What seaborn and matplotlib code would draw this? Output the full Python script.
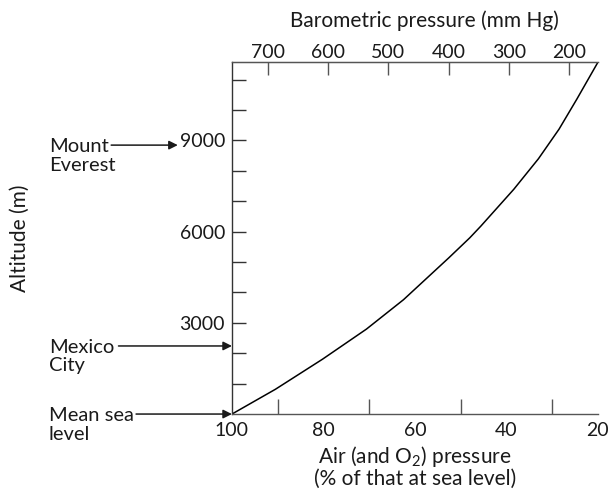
import matplotlib
matplotlib.use("Agg")
import matplotlib.pyplot as plt
import seaborn as sns
import pandas as pd

# values
pressure_pct = [100, 90.5, 80.2, 70.6, 62.5, 52.6, 48.0, 45.6, 38.4, 33.0, 28.5, 24.6, 20.0]
altitude_m = [0, 815, 1805, 2795, 3762, 5139, 5800, 6182, 7393, 8400, 9373, 10363, 11575]
pct_ticks = [100, 80, 60, 40, 20]
mmhg_ticks = [700, 600, 500, 400, 300, 200]
alt_ticks = [3000, 6000, 9000]
places = ["Mount\nEverest", "Mexico\nCity", "Mean sea\nlevel"]
place_alt = [8848, 2240, 0]

df = pd.DataFrame({"pct": pressure_pct, "alt": altitude_m})

sns.set_style("white")
plt.rcParams["font.family"] = ["Lato", "DejaVu Sans"]
plt.rcParams["mathtext.fontset"] = "custom"
plt.rcParams["mathtext.rm"] = "Lato"

fig = plt.figure(figsize=(6.12, 4.90), dpi=100)
ax = fig.add_axes([0.379, 0.155, 0.598, 0.718])

sns.lineplot(data=df, x="pct", y="alt", color="black", linewidth=1.1, ax=ax)

ax.set_xlim(100, 20)
ax.set_ylim(0, 11575)

spine_col = "#555555"
txt_col = "#1a1a1a"
for s in ["left", "bottom", "top"]:
    ax.spines[s].set_color(spine_col)
    ax.spines[s].set_linewidth(1.0)
ax.spines["left"].set_color("#333333")
ax.spines["right"].set_visible(False)

tick_fs = 14
lab_fs = 15
ann_fs = 14.5
ax.set_xticks(pct_ticks)
ax.set_xticks(range(90, 19, -10), minor=True)
ax.set_yticks(alt_ticks)
ax.set_yticks([y for y in range(1000, 11001, 1000) if y % 3000 != 0], minor=True)
ax.tick_params(axis="both", which="both", direction="in", width=1.0,
               color=spine_col, labelsize=tick_fs, labelcolor=txt_col,
               left=True, bottom=True)
ax.tick_params(axis="y", which="both", length=10, pad=5, color="#333333")
ax.tick_params(axis="x", which="major", length=0, pad=6)
ax.tick_params(axis="x", which="minor", length=11)

ax.set_xlabel("Air (and O$_2$) pressure\n(% of that at sea level)", fontsize=lab_fs,
              color=txt_col, labelpad=3, linespacing=1.0)
ax.set_ylabel("Altitude (m)", fontsize=lab_fs, color=txt_col)
ax.yaxis.set_label_coords(-0.552, 0.5)

# top axis: barometric pressure
top = ax.secondary_xaxis("top", functions=(lambda p: p * 7.6, lambda m: m / 7.6))
top.set_xticks(mmhg_ticks)
top.tick_params(direction="in", length=9.5, width=1.0, color=spine_col,
                labelsize=tick_fs, labelcolor=txt_col, pad=1, top=True)
top.spines["top"].set_color(spine_col)
top.set_xlabel("Barometric pressure (mm Hg)", fontsize=lab_fs, color=txt_col, labelpad=12)
top.xaxis.label.set_x(0.525)

# place annotations
text_x = -0.5
arrow_start = [-0.330, -0.310, -0.262]
arrow_end = [-0.148, 0.0, 0.0]
for name, alt, xs, xe in zip(places, place_alt, arrow_start, arrow_end):
    ax.annotate("", xy=(xe, alt), xytext=(xs, alt),
                xycoords=("axes fraction", "data"), textcoords=("axes fraction", "data"),
                arrowprops=dict(arrowstyle="-|>", color=txt_col, lw=1.1,
                                mutation_scale=13, shrinkA=0, shrinkB=0),
                annotation_clip=False)
    ax.annotate(name, xy=(text_x, alt), xycoords=("axes fraction", "data"),
                xytext=(0, 5), textcoords="offset points", fontsize=ann_fs,
                color=txt_col, ha="left", va="top", linespacing=1.1,
                annotation_clip=False)

fig.savefig("out.png", dpi=100)
